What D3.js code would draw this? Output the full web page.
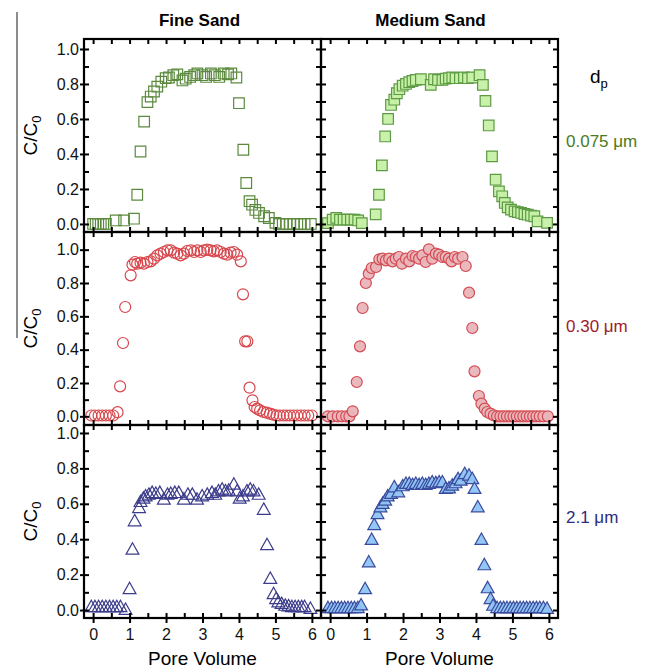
<!DOCTYPE html>
<html>
<head>
<meta charset="utf-8">
<script src="https://cdnjs.cloudflare.com/ajax/libs/d3/7.8.5/d3.min.js"></script>
<style>
  body { margin: 0; background: #fff; }
  text { font-family: "Liberation Sans", Arial, sans-serif; }
</style>
</head>
<body>
<div id="chart"></div>
<script>
// ---- data (pore volume, C/C0) ----
var fine075X = [0,0.07,0.14,0.21,0.28,0.35,0.62,0.85,1.12,1.21,1.30,1.40,1.49,1.58,1.67,1.76,1.87,1.99,2.08,2.20,2.31,2.45,2.54,2.66,2.77,2.86,3.00,3.10,3.23,3.34,3.46,3.58,3.70,3.79,3.93,4.00,4.12,4.20,4.29,4.36,4.45,4.55,4.69,4.82,5.00,5.10,5.20,5.30,5.40,5.50,5.60,5.70,5.80,5.97];
var fine075Y = [0,0,0,0,0,0,0.02,0.02,0.03,0.167,0.414,0.585,0.696,0.728,0.757,0.785,0.813,0.833,0.837,0.85,0.855,0.82,0.83,0.84,0.85,0.86,0.85,0.84,0.86,0.85,0.84,0.86,0.855,0.86,0.837,0.69,0.424,0.234,0.13,0.11,0.08,0.063,0.044,0.034,0.006,0,0,0,0,0,0,0,0,0];

var med075X = [-0.06,0.07,0.17,0.27,0.37,0.47,0.57,0.67,0.77,0.87,1.25,1.34,1.42,1.51,1.59,1.67,1.76,1.83,1.90,1.99,2.08,2.17,2.26,2.35,2.49,2.76,2.85,2.96,3.08,3.17,3.26,3.35,3.44,3.56,3.67,3.78,3.90,4.10,4.19,4.26,4.35,4.44,4.54,4.63,4.72,4.79,4.87,4.96,5.06,5.15,5.24,5.33,5.42,5.51,5.60,5.69,5.95];
var med075Y = [0.005,0.025,0.035,0.025,0.025,0.025,0.025,0.025,0.02,0.005,0.055,0.167,0.335,0.50,0.60,0.68,0.71,0.747,0.77,0.79,0.80,0.81,0.817,0.823,0.827,0.795,0.827,0.823,0.823,0.83,0.833,0.837,0.833,0.833,0.837,0.833,0.837,0.85,0.795,0.703,0.563,0.386,0.253,0.186,0.158,0.12,0.095,0.082,0.072,0.068,0.063,0.057,0.053,0.048,0.044,0.015,0.006];

var fine030X = [-0.05,0.05,0.15,0.25,0.35,0.45,0.55,0.67,0.74,0.82,0.88,1.03,1.08,1.15,1.21,1.30,1.39,1.49,1.58,1.67,1.76,1.85,1.94,2.04,2.13,2.22,2.31,2.40,2.49,2.58,2.68,2.77,2.86,2.95,3.04,3.13,3.22,3.31,3.40,3.50,3.59,3.68,3.77,3.86,3.95,4.05,4.11,4.17,4.23,4.29,4.37,4.43,4.50,4.58,4.67,4.76,4.85,4.94,5.03,5.12,5.22,5.31,5.40,5.50,5.60,5.70,5.80,5.90,6.00];
var fine030Y = [0.005,0.005,0.005,0.005,0.005,0.005,0.005,0.025,0.18,0.44,0.656,0.846,0.91,0.926,0.916,0.922,0.916,0.926,0.93,0.946,0.966,0.976,0.986,0.996,0.996,0.982,0.976,0.966,0.976,0.992,0.996,0.986,0.996,0.986,0.996,1.0,0.996,0.99,0.996,0.986,0.976,0.97,0.982,0.986,0.97,0.93,0.732,0.45,0.45,0.172,0.096,0.056,0.046,0.036,0.026,0.022,0.016,0.01,0.005,0.005,0.005,0.005,0.005,0.005,0.005,0.005,0.005,0.005,0.005];

var med030X = [-0.06,0.07,0.21,0.32,0.44,0.53,0.62,0.73,0.82,0.89,0.98,1.06,1.14,1.26,1.35,1.44,1.53,1.62,1.71,1.80,1.89,1.97,2.08,2.17,2.26,2.35,2.44,2.53,2.62,2.71,2.80,2.90,2.99,3.08,3.17,3.26,3.33,3.42,3.51,3.63,3.72,3.81,3.90,3.96,4.08,4.15,4.24,4.31,4.40,4.49,4.58,4.67,4.76,4.85,4.94,5.03,5.12,5.21,5.30,5.39,5.48,5.57,5.66,5.75,5.85,5.97];
var med030Y = [0,0,0,0,0,0,0.03,0.206,0.42,0.65,0.80,0.856,0.89,0.896,0.942,0.946,0.936,0.946,0.93,0.946,0.956,0.916,0.946,0.93,0.962,0.956,0.946,0.966,0.926,1.002,0.946,0.976,0.97,0.956,0.956,0.946,0.93,0.956,0.946,0.956,0.902,0.742,0.53,0.27,0.122,0.076,0.046,0.026,0.016,0.006,0,0,0,0,0,0,0,0,0,0,0,0,0,0,0,0];

var fine21X = [-0.05,0.05,0.15,0.25,0.35,0.45,0.55,0.65,0.75,0.89,1.00,1.08,1.14,1.26,1.30,1.38,1.44,1.53,1.62,1.72,1.83,1.94,2.04,2.13,2.24,2.35,2.49,2.60,2.72,2.85,2.99,3.13,3.26,3.35,3.44,3.54,3.63,3.72,3.86,3.95,4.02,4.11,4.22,4.31,4.40,4.54,4.68,4.77,4.86,4.95,5.02,5.08,5.17,5.27,5.36,5.45,5.54,5.63,5.72,5.80,5.96];
var fine21Y = [0.02,0.02,0.02,0.02,0.02,0.02,0.02,0.02,0.02,0.005,0.122,0.345,0.505,0.58,0.614,0.633,0.646,0.655,0.665,0.66,0.665,0.627,0.655,0.66,0.665,0.665,0.627,0.655,0.655,0.627,0.646,0.655,0.665,0.655,0.674,0.684,0.674,0.678,0.712,0.674,0.633,0.646,0.674,0.684,0.674,0.655,0.57,0.37,0.18,0.094,0.066,0.047,0.038,0.028,0.025,0.02,0.02,0.02,0.02,0.02,0.01];

var med21X = [-0.06,0.04,0.13,0.22,0.31,0.40,0.49,0.58,0.67,0.76,0.85,0.96,1.06,1.14,1.21,1.30,1.38,1.44,1.51,1.58,1.67,1.76,1.87,1.99,2.08,2.17,2.26,2.35,2.44,2.53,2.62,2.71,2.80,2.90,2.99,3.08,3.17,3.26,3.35,3.44,3.51,3.58,3.69,3.81,3.90,3.96,4.05,4.15,4.23,4.32,4.40,4.47,4.58,4.67,4.76,4.85,4.94,5.03,5.12,5.21,5.30,5.39,5.48,5.57,5.66,5.75,5.85,5.95];
var med21Y = [0.015,0.015,0.015,0.015,0.015,0.015,0.015,0.015,0.015,0.015,0.03,0.122,0.273,0.40,0.484,0.546,0.584,0.603,0.622,0.646,0.66,0.697,0.669,0.703,0.716,0.716,0.71,0.716,0.71,0.716,0.71,0.716,0.725,0.72,0.725,0.725,0.688,0.691,0.706,0.72,0.743,0.735,0.772,0.763,0.743,0.688,0.584,0.40,0.257,0.127,0.066,0.028,0.015,0.015,0.015,0.015,0.015,0.015,0.015,0.015,0.015,0.015,0.015,0.015,0.015,0.015,0.015,0.01];

var columnTitles = ["Fine Sand", "Medium Sand"];
var sizeLabels = ["0.075 \u03bcm", "0.30 \u03bcm", "2.1 \u03bcm"];
var xTickLabels = [0, 1, 2, 3, 4, 5, 6];
var yTickLabels = [0, 0.2, 0.4, 0.6, 0.8, 1.0];

// ---- layout ----
var w = 654, h = 671;
var cols = [[84, 321], [321, 558]];
var rows = [[39, 232, [-0.046, 1.057]], [232, 425, [-0.052, 1.106]], [425, 618, [-0.045, 1.045]]];
var rowColors = ["#4a7a22", "#9e1c2a", "#2c2c7c"];

var panels = [
  {r: 0, c: 0, xs: fine075X, ys: fine075Y, shape: "square", fill: "none", stroke: "#5b8a3e"},
  {r: 0, c: 1, xs: med075X, ys: med075Y, shape: "square", fill: "#c6f0a6", stroke: "#5e9a44"},
  {r: 1, c: 0, xs: fine030X, ys: fine030Y, shape: "circle", fill: "none", stroke: "#d8464c"},
  {r: 1, c: 1, xs: med030X, ys: med030Y, shape: "circle", fill: "#e9b5b9", stroke: "#d44a52"},
  {r: 2, c: 0, xs: fine21X, ys: fine21Y, shape: "triangle", fill: "none", stroke: "#3c3c8c"},
  {r: 2, c: 1, xs: med21X, ys: med21Y, shape: "triangle", fill: "#8ec4f4", stroke: "#3a4a9c"}
];

var svg = d3.select("#chart").append("svg")
  .attr("width", w)
  .attr("height", h);

// stray crop line at the left of the original figure
svg.append("line")
  .attr("x1", 17).attr("x2", 17).attr("y1", 12).attr("y2", 338)
  .attr("stroke", "#8c8c8c").attr("stroke-width", 2);

var xMinor = d3.range(0, 6.01, 0.5);
var yAll = d3.range(0, 1.001, 0.1);

function marker(shape) {
  if (shape === "square") return "M-5.3,-5.3H5.3V5.3H-5.3Z";
  if (shape === "circle") return d3.symbol(d3.symbolCircle, 95)();
  return "M0,-6.2L6.4,5.2L-6.4,5.2Z";
}

panels.forEach(function(p) {
  var x0 = cols[p.c][0], x1 = cols[p.c][1];
  var y0 = rows[p.r][0], y1 = rows[p.r][1];
  var x = d3.scaleLinear().domain([-0.25, 6.25]).range([x0, x1]);
  var y = d3.scaleLinear().domain(rows[p.r][2]).range([y1, y0]);
  var g = svg.append("g");

  g.selectAll("path.pt")
    .data(p.xs.map(function(v, i) { return [v, p.ys[i]]; }))
    .enter().append("path")
    .attr("class", "pt")
    .attr("d", marker(p.shape))
    .attr("transform", function(d) { return "translate(" + x(d[0]) + "," + y(d[1]) + ")"; })
    .attr("fill", p.fill)
    .attr("stroke", p.stroke)
    .attr("stroke-width", 1.2)
    .attr("fill-opacity", p.fill === "none" ? 0 : 0.95);

  // inward ticks on all four sides
  var ax = [
    [d3.axisLeft(y).tickValues(yAll), "translate(" + x0 + ",0)"],
    [d3.axisRight(y).tickValues(yAll), "translate(" + x1 + ",0)"],
    [d3.axisTop(x).tickValues(xMinor), "translate(0," + y0 + ")"],
    [d3.axisBottom(x).tickValues(xMinor), "translate(0," + y1 + ")"]
  ];
  ax.forEach(function(a) {
    var ag = g.append("g").attr("transform", a[1])
      .call(a[0].tickSize(-5).tickFormat(""));
    ag.select(".domain").remove();
    ag.selectAll("line").attr("stroke-width", 2);
  });

  if (p.c === 0) {
    var ly = g.append("g").attr("transform", "translate(" + x0 + ",0)")
      .call(d3.axisLeft(y).tickValues(yTickLabels).tickSize(4).tickPadding(1)
        .tickFormat(d3.format(".1f")));
    ly.select(".domain").remove();
    ly.selectAll("line").attr("stroke-width", 2);
    ly.selectAll("text").attr("font-size", 16).attr("fill", "#111")
      .style("font-family", "'Liberation Sans', Arial, sans-serif");

    g.append("text")
      .attr("transform", "translate(37," + ((y0 + y1) / 2) + ") rotate(-90)")
      .attr("text-anchor", "middle")
      .attr("font-size", 19)
      .html('C/C<tspan font-size="13" dy="4">0</tspan>');
  }
  if (p.r === 2) {
    var lx = g.append("g").attr("transform", "translate(0," + y1 + ")")
      .call(d3.axisBottom(x).tickValues(xTickLabels).tickSize(5).tickPadding(6)
        .tickFormat(d3.format("d")));
    lx.select(".domain").remove();
    lx.selectAll("line").attr("stroke-width", 2);
    lx.selectAll("text").attr("font-size", 16).attr("fill", "#111")
      .style("font-family", "'Liberation Sans', Arial, sans-serif");

    g.append("text")
      .attr("x", (x0 + x1) / 2).attr("y", 665)
      .attr("text-anchor", "middle")
      .attr("font-size", 19)
      .text("Pore Volume");
  }

  g.append("rect")
    .attr("x", x0).attr("y", y0)
    .attr("width", x1 - x0).attr("height", y1 - y0)
    .attr("fill", "none").attr("stroke", "#000").attr("stroke-width", 2.2);
});

columnTitles.forEach(function(t, i) {
  svg.append("text")
    .attr("x", (cols[i][0] + cols[i][1]) / 2 + (i === 0 ? -3 : -9))
    .attr("y", 26)
    .attr("text-anchor", "middle")
    .attr("font-size", 17)
    .attr("font-weight", "bold")
    .text(t);
});

svg.append("text")
  .attr("x", 590).attr("y", 83)
  .attr("font-size", 19)
  .html('d<tspan font-size="13" dy="5">p</tspan>');

var labelY = [147, 332, 523];
sizeLabels.forEach(function(t, i) {
  svg.append("text")
    .attr("x", 566).attr("y", labelY[i])
    .attr("font-size", 17)
    .attr("fill", rowColors[i])
    .text(t);
});
</script>
</body>
</html>
